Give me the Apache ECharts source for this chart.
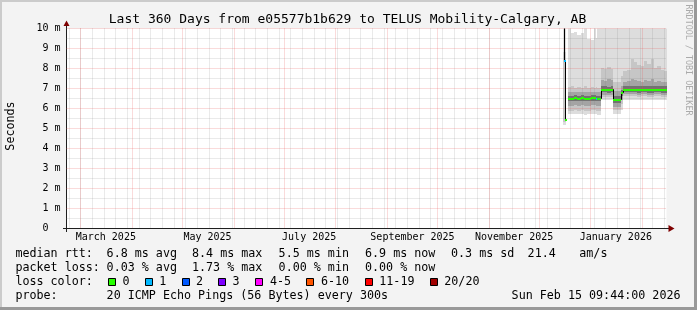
<!DOCTYPE html>
<html><head><meta charset="utf-8">
<script src="https://cdn.jsdelivr.net/npm/echarts@6/dist/echarts.min.js"></script>
<style>html,body{margin:0;padding:0;background:#f3f3f3}#c{width:697px;height:310px}</style>
</head><body><div id="c"></div>
<script>
// ---------- data ----------
const rangeStart = '2025-02-20 09:44';
const rangeEnd   = '2026-02-15 09:44';
const times = [
 '2025-12-15 06:00','2025-12-15 20:00','2025-12-16 06:00','2025-12-16 18:00',
 '2025-12-18 12:00','2025-12-20 00:00','2025-12-22 00:00','2025-12-24 00:00','2025-12-26 00:00',
 '2025-12-28 00:00','2025-12-30 00:00','2026-01-01 00:00','2026-01-03 00:00','2026-01-04 00:00',
 '2026-01-05 00:00','2026-01-07 00:00','2026-01-09 00:00','2026-01-11 00:00','2026-01-13 00:00',
 '2026-01-14 12:00','2026-01-17 00:00','2026-01-19 00:00','2026-01-20 12:00','2026-01-23 00:00',
 '2026-01-25 00:00','2026-01-27 00:00','2026-01-29 00:00','2026-01-31 00:00','2026-02-02 00:00',
 '2026-02-04 00:00','2026-02-06 00:00','2026-02-08 00:00','2026-02-10 00:00','2026-02-12 00:00',
 '2026-02-14 00:00'
];
const dataEnd = '2026-02-15 09:44';
// median rtt (ms)
const median = [10.6,8.4,5.45,null,
 6.5,6.5,6.52,6.5,6.52,6.48,6.5,6.52,6.52,6.5,6.48,
 6.95,6.95,6.92,6.95,
 6.45,6.45,6.78,
 6.95,6.95,6.95,6.95,6.93,6.95,6.95,6.93,6.93,6.95,6.95,6.93,6.93];
// lost pings out of 20
const lossCount = [0,1,0,null,
 0,0,0,0,0,0,0,0,0,1,0,
 0,0,0,0,
 0,0,0,
 0,0,0,0,0,0,0,0,0,0,0,0,0];
// smoke bands (ms)
const smokeMax = [10.5,10.5,10.5,null,
 10.5,9.75,9.8,9.65,9.75,10.5,9.45,9.4,10.5,9.5,10.5,
 10.5,10.5,10.5,10.5, 10.5,10.5,10.5,
 10.5,10.5,10.5,10.5,10.5,10.5,10.5,10.5,10.5,10.5,10.5,10.5,10.5];
const smokeHi2 = [8.8,8.8,8.8,null,
 7.05,7.1,7.0,7.05,7.0,7.1,7.0,7.05,7.0,7.05,7.0,
 8.0,7.95,8.05,7.95, 7.3,7.3,7.6,
 7.85,7.9,8.45,8.3,8.15,8.1,8.35,8.2,8.45,8.0,8.1,7.9,7.85];
const smokeHi3 = [null,null,null,null,
 6.8,6.82,6.78,6.8,6.8,6.82,6.78,6.8,6.8,6.8,6.78,
 7.4,7.35,7.45,7.4, 6.85,6.85,7.1,
 7.3,7.35,7.45,7.4,7.35,7.3,7.4,7.35,7.45,7.3,7.35,7.3,7.3];
const smokeHi4 = [null,null,null,null,
 6.62,6.62,6.64,6.62,6.64,6.6,6.62,6.64,6.64,6.62,6.6,
 7.1,7.1,7.07,7.1, 6.6,6.6,6.9,
 7.1,7.1,7.1,7.1,7.08,7.1,7.1,7.08,7.08,7.1,7.1,7.08,7.08];
const smokeLo4 = [null,null,null,null,
 6.38,6.38,6.4,6.38,6.4,6.36,6.38,6.4,6.4,6.38,6.36,
 6.82,6.82,6.8,6.82, 6.3,6.3,6.62,
 6.82,6.82,6.82,6.82,6.8,6.82,6.82,6.8,6.8,6.82,6.82,6.8,6.8];
const smokeLo3 = [null,null,null,null,
 6.15,6.15,6.17,6.15,6.17,6.13,6.15,6.17,6.17,6.15,6.13,
 6.7,6.7,6.68,6.7, 6.1,6.1,6.45,
 6.72,6.72,6.72,6.72,6.7,6.72,6.72,6.7,6.7,6.72,6.72,6.7,6.7];
const smokeLo2 = [5.35,5.35,5.35,null,
 5.9,5.9,5.92,5.9,5.92,5.88,5.9,5.92,5.92,5.9,5.88,
 6.6,6.6,6.58,6.6, 5.95,5.95,6.25,
 6.62,6.62,6.62,6.62,6.6,6.62,6.62,6.6,6.6,6.62,6.62,6.6,6.6];
const smokeMin = [5.2,5.2,5.2,null,
 5.72,5.72,5.75,5.72,5.75,5.7,5.72,5.75,5.75,5.72,5.7,
 6.45,6.45,6.43,6.45, 5.75,5.75,5.95,
 6.45,6.45,6.42,6.45,6.43,6.45,6.45,6.42,6.42,6.45,6.45,6.43,6.43];

// axes / ticks
const yTicks = [0,1,2,3,4,5,6,7,8,9,10];
const yTickLabels = ['0\u00a0\u00a0','1 m','2 m','3 m','4 m','5 m','6 m','7 m','8 m','9 m','10 m'];
const yMinor = [0.5,1.5,2.5,3.5,4.5,5.5,6.5,7.5,8.5,9.5];
const monthStarts = ['2025-03-01','2025-04-01','2025-05-01','2025-06-01','2025-07-01','2025-08-01',
 '2025-09-01','2025-10-01','2025-11-01','2025-12-01','2026-01-01','2026-02-01'];
const monthLabelAt = ['2025-03-16','2025-05-16','2025-07-16','2025-09-16','2025-11-16','2026-01-16'];
const monthLabels = ['March 2025','May 2025','July 2025','September 2025','November 2025','January 2026'];
const firstWeekLine = '2025-02-22';

// legend
const lossLabels = ['0','1','2','3','4-5','6-10','11-19','20/20'];
const lossColors = ['#26ff00','#00b8ff','#0059ff','#7e00ff','#ff00ff','#ff5500','#ff0000','#a10000'];
const lossLimits = [0,1,2,3,5,10,19,20];
const rttRow = ['median rtt:','6.8 ms avg','8.4 ms max','5.5 ms min','6.9 ms now','0.3 ms sd','21.4','am/s'];
const lossRow = ['packet loss:','0.03 % avg','1.73 % max','0.00 % min','0.00 % now'];
const probeRow = ['probe:','20 ICMP Echo Pings (56 Bytes) every 300s'];
const stampText = 'Sun Feb 15 09:44:00 2026';
const titleText = 'Last 360 Days from e05577b1b629 to TELUS Mobility-Calgary, AB';

// ---------- helpers ----------
function T(s){const p=s.split(' ');const d=p[0].split('-').map(Number);const hm=(p[1]||'00:00').split(':').map(Number);
  return Date.UTC(d[0],d[1]-1,d[2],hm[0],hm[1]);}
const tMin=T(rangeStart), tMax=T(rangeEnd);
const tt=times.map(T); const tEnd=T(dataEnd);
const nextT=i=>(i+1<tt.length?tt[i+1]:tEnd);
function lossColor(n){for(let k=0;k<lossLimits.length;k++){if(n<=lossLimits[k])return lossColors[k];}return lossColors[lossColors.length-1];}
const MONO='"DejaVu Sans Mono", monospace';

function bandSeries(lo,hi,color){
  const data=[];
  tt.forEach((t,i)=>{if(lo[i]!=null&&hi[i]!=null)data.push([t,nextT(i),lo[i],hi[i]]);});
  return {type:'custom',silent:true,animation:false,clip:true,encode:{x:[0,1],y:[2,3]},data,
    renderItem(params,api){
      const x0=Math.round(api.coord([api.value(0),0])[0]);
      const x1=Math.round(api.coord([api.value(1),0])[0]);
      const yT=Math.floor(api.coord([tMin,Math.min(api.value(3),10)])[1]);
      const yB=Math.round(api.coord([tMin,api.value(2)])[1]);
      return {type:'rect',shape:{x:x0,y:yT,width:Math.max(1,x1-x0),height:yB-yT},style:{fill:color}};
    }};
}
function vGrid(list,color){
  return {type:'custom',silent:true,animation:false,encode:{x:0,y:1},data:list.map(t=>[t,0]),
    renderItem(params,api){const cs=params.coordSys;
      const x=Math.floor(api.coord([api.value(0),0])[0])+0.5;
      return {type:'line',shape:{x1:x,y1:cs.y,x2:x,y2:cs.y+cs.height},style:{stroke:color,lineWidth:1,lineDash:[1,1]}};}};
}
function hGrid(list,color){
  return {type:'custom',silent:true,animation:false,encode:{x:0,y:1},data:list.map(v=>[tMin,v]),
    renderItem(params,api){const cs=params.coordSys;
      const y=Math.floor(api.coord([tMin,api.value(1)])[1])+0.5;
      return {type:'line',shape:{x1:cs.x,y1:y,x2:cs.x+cs.width,y2:y},style:{stroke:color,lineWidth:1,lineDash:[1,1]}};}};
}
const weekLines=[]; for(let t=T(firstWeekLine);t<tMax;t+=7*864e5)weekLines.push(t);

const medData=[];
tt.forEach((t,i)=>{if(median[i]!=null){const nx=(i+1<median.length&&median[i+1]!=null)?median[i+1]:-1;
  medData.push([t,nextT(i),median[i],nx,lossCount[i]]);}});

const medianBlack={type:'custom',silent:true,animation:false,clip:true,encode:{x:[0,1],y:2},data:medData,
  renderItem(params,api){
    const x0=Math.round(api.coord([api.value(0),0])[0])+0.5;
    const x1=Math.round(api.coord([api.value(1),0])[0])+0.5;
    const y=Math.floor(api.coord([tMin,api.value(2)])[1])+0.5;
    const pts=[[x0,y],[x1,y]];
    if(api.value(3)>=0)pts.push([x1,Math.floor(api.coord([tMin,api.value(3)])[1])+0.5]);
    return {type:'polyline',shape:{points:pts},style:{stroke:'#000',lineWidth:1,fill:null}};
  }};
const medianColor={type:'custom',silent:true,animation:false,clip:true,encode:{x:[0,1],y:2},data:medData,
  renderItem(params,api){
    let x0=Math.round(api.coord([api.value(0),0])[0]);
    let x1=Math.round(api.coord([api.value(1),0])[0]);
    if(x1-x0<2)x1=x0+2;
    const y=Math.round(api.coord([tMin,api.value(2)])[1]);
    return {type:'line',shape:{x1:x0,y1:y,x2:x1,y2:y},style:{stroke:lossColor(api.value(4)),lineWidth:2}};
  }};

// ---------- graphics (text & frame) ----------
const g=[];
const txt=(x,y,s,opt)=>g.push(Object.assign({type:'text',silent:true,style:Object.assign({text:s,x:x,y:y,fill:'#000',font:'11.7px '+MONO,align:'left',verticalAlign:'middle'},opt||{})}));
g.push({type:'rect',silent:true,shape:{x:0,y:0,width:697,height:2},style:{fill:'#cbcbcb'}});
g.push({type:'rect',silent:true,shape:{x:0,y:0,width:2,height:310},style:{fill:'#cbcbcb'}});
g.push({type:'rect',silent:true,shape:{x:0,y:307,width:697,height:3},style:{fill:'#999'}});
g.push({type:'rect',silent:true,shape:{x:694,y:0,width:3,height:310},style:{fill:'#999'}});
txt(347.5,20,titleText,{font:'13px '+MONO,align:'center'});
txt(688,60,'RRDTOOL / TOBI OETIKER',{font:'8.4px '+MONO,fill:'#aaaaaa',align:'center'});
g[g.length-1].rotation=-Math.PI/2; g[g.length-1].x=688; g[g.length-1].y=60; g[g.length-1].style.x=0; g[g.length-1].style.y=0;
txt(0,0,'Seconds',{align:'center'}); g[g.length-1].rotation=Math.PI/2; g[g.length-1].x=10.5; g[g.length-1].y=126;
const colX=[15.4,106.6,192,278.6,365,451,527.6,579.3];
rttRow.forEach((s,i)=>txt(colX[i],253.8,s));
lossRow.forEach((s,i)=>txt(colX[i],267.8,s));
txt(15.4,281.8,'loss color:');
const boxX=[108.5,145.5,182.5,218.5,255.5,306.5,365.5,430.5];
const boxLabX=[122.6,159.3,196,232.6,270,321,379.3,444.3];
lossLabels.forEach((s,i)=>{g.push({type:'rect',silent:true,shape:{x:boxX[i],y:278.5,width:7,height:7},style:{fill:lossColors[i],stroke:'#000',lineWidth:1}});
  txt(boxLabX[i],281.8,s);});
probeRow.forEach((s,i)=>txt(colX[i],295.8,s));
txt(680.5,295.8,stampText,{align:'right'});
// axis extensions and arrows
const AX='#1f1f1f', AR='#7f0000';
g.push({type:'line',silent:true,shape:{x1:66.5,y1:232,x2:66.5,y2:25},style:{stroke:AX,lineWidth:1}});
g.push({type:'line',silent:true,shape:{x1:63,y1:228.5,x2:669,y2:228.5},style:{stroke:AX,lineWidth:1}});
g.push({type:'polygon',silent:true,shape:{points:[[63.5,26],[69.5,26],[66.5,20.5]]},style:{fill:AR}});
g.push({type:'polygon',silent:true,shape:{points:[[668.5,225],[668.5,232],[674.5,228.5]]},style:{fill:AR}});

const chart=echarts.init(document.getElementById('c'),null,{renderer:'canvas'});
chart.setOption({
  animation:false,
  backgroundColor:'#f3f3f3',
  grid:{left:66.5,top:28.5,width:600,height:200,show:true,backgroundColor:'#ffffff',borderWidth:0},
  xAxis:{type:'value',min:tMin,max:tMax,
    axisLine:{show:false},axisTick:{show:false},splitLine:{show:false},
    axisLabel:{customValues:monthLabelAt.map(s=>T(s+' 00:00')),
      formatter:v=>{const i=monthLabelAt.map(s=>T(s+' 00:00')).indexOf(v);return i>=0?monthLabels[i]:'';},
      fontFamily:MONO,fontSize:10,color:'#000',margin:4}},
  yAxis:{type:'value',min:0,max:10,interval:1,
    axisLine:{show:false},axisTick:{show:false},splitLine:{show:false},
    axisLabel:{formatter:v=>yTickLabels[yTicks.indexOf(v)]||'',fontFamily:MONO,fontSize:10,color:'#000',margin:6}},
  series:[
    bandSeries(smokeMin,smokeMax,'#dddddd'),
    bandSeries(smokeLo2,smokeHi2,'#c6c6c6'),
    bandSeries(smokeLo3,smokeHi3,'#a4a4a4'),
    bandSeries(smokeLo4,smokeHi4,'#727272'),
    vGrid(weekLines,'rgba(128,128,128,0.32)'),
    hGrid(yMinor,'rgba(128,128,128,0.32)'),
    vGrid(monthStarts.map(s=>T(s+' 00:00')),'rgba(228,80,80,0.42)'),
    hGrid(yTicks.filter(v=>v>0),'rgba(228,80,80,0.42)'),
    medianBlack,
    medianColor
  ],
  graphic:g
});
</script></body></html>
